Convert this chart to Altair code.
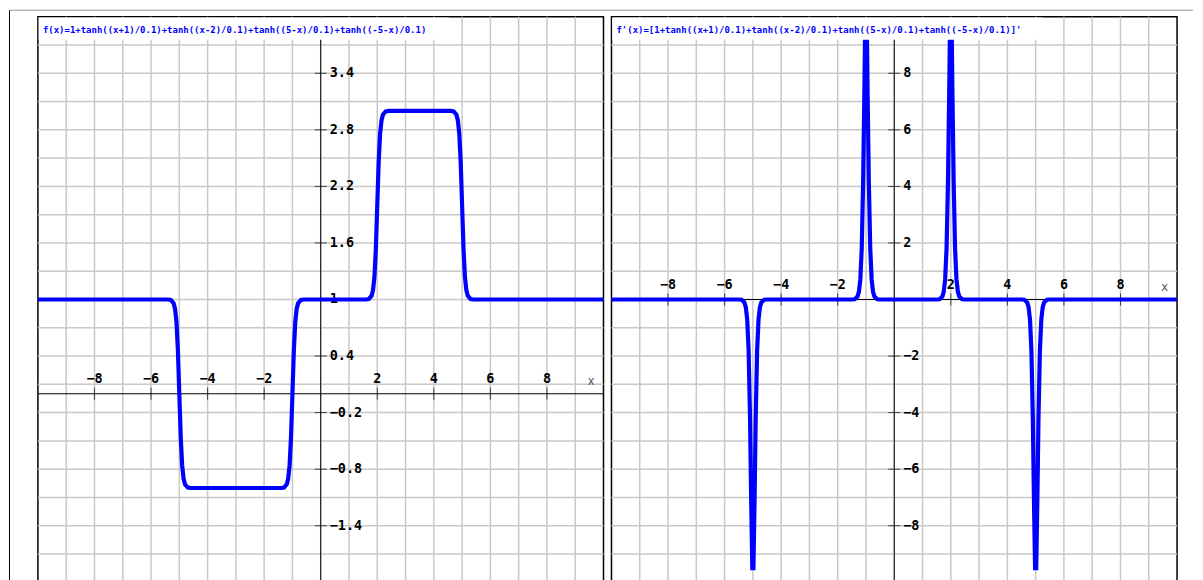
import altair as alt
import pandas as pd

W = 567
H = 567
FONT = "DejaVu Sans Mono"
BLUE = "#0000ff"
GRID = "#c8c8c8"

# ---------------- data ----------------
# left panel: f(x)
f_x = [-10, -5.4, -5.3, -5.2, -5.15, -5.1, -5.05, -5.0, -4.95, -4.9, -4.85, -4.8, -4.7, -4.6,
       -1.4, -1.3, -1.2, -1.15, -1.1, -1.05, -1.0, -0.95, -0.9, -0.85, -0.8, -0.7, -0.6,
       1.6, 1.7, 1.8, 1.85, 1.9, 1.95, 2.0, 2.05, 2.1, 2.15, 2.2, 2.3, 2.4,
       4.6, 4.7, 4.8, 4.85, 4.9, 4.95, 5.0, 5.05, 5.1, 5.15, 5.2, 5.3, 5.4, 10]
f_y = [1, 1, 0.995, 0.96, 0.9, 0.76, 0.46, 0, -0.46, -0.76, -0.9, -0.96, -0.995, -1,
       -1, -0.995, -0.96, -0.9, -0.76, -0.46, 0, 0.46, 0.76, 0.9, 0.96, 0.995, 1,
       1, 1.005, 1.04, 1.1, 1.24, 1.54, 2, 2.46, 2.76, 2.9, 2.96, 2.995, 3,
       3, 2.995, 2.96, 2.9, 2.76, 2.46, 2, 1.54, 1.24, 1.1, 1.04, 1.005, 1, 1]

# right panel: f'(x)
g_x = [-10,
       -5.5, -5.4, -5.3, -5.25, -5.2, -5.15, -5.1, -5.06, -5.02, -4.98, -4.94, -4.9, -4.85, -4.8, -4.75, -4.7, -4.6, -4.5,
       -1.5, -1.4, -1.3, -1.25, -1.2, -1.15, -1.1, -1.06, -1.03, -0.97, -0.94, -0.9, -0.85, -0.8, -0.75, -0.7, -0.6, -0.5,
       1.5, 1.6, 1.7, 1.75, 1.8, 1.85, 1.9, 1.94, 1.97, 2.03, 2.06, 2.1, 2.15, 2.2, 2.25, 2.3, 2.4, 2.5,
       4.5, 4.6, 4.7, 4.75, 4.8, 4.85, 4.9, 4.94, 4.98, 5.02, 5.06, 5.1, 5.15, 5.2, 5.25, 5.3, 5.4, 5.5,
       10]
g_y = [0,
       0, -0.01, -0.1, -0.27, -0.71, -1.81, -4.2, -7.1, -9.5, -9.5, -7.1, -4.2, -1.81, -0.71, -0.27, -0.1, -0.01, 0,
       0, 0.01, 0.1, 0.27, 0.71, 1.81, 4.2, 7.1, 9.6, 9.6, 7.1, 4.2, 1.81, 0.71, 0.27, 0.1, 0.01, 0,
       0, 0.01, 0.1, 0.27, 0.71, 1.81, 4.2, 7.1, 9.6, 9.6, 7.1, 4.2, 1.81, 0.71, 0.27, 0.1, 0.01, 0,
       0, -0.01, -0.1, -0.27, -0.71, -1.81, -4.2, -7.1, -9.5, -9.5, -7.1, -4.2, -1.81, -0.71, -0.27, -0.1, -0.01, 0,
       0]

# grids, ticks and labels
x_grid = [-9, -8, -7, -6, -5, -4, -3, -2, -1, 0, 1, 2, 3, 4, 5, 6, 7, 8, 9]
left_y_grid = [-1.7, -1.4, -1.1, -0.8, -0.5, -0.2, 0.1, 0.4, 0.7, 1.0, 1.3, 1.6, 1.9,
               2.2, 2.5, 2.8, 3.1, 3.4, 3.7]
right_y_grid = [-9, -8, -7, -6, -5, -4, -3, -2, -1, 0, 1, 2, 3, 4, 5, 6, 7, 8, 9]

x_ticks = [-8, -6, -4, -2, 2, 4, 6, 8]
x_tick_labels = ["−8", "−6", "−4", "−2", "2", "4", "6", "8"]
left_y_ticks = [-1.4, -0.8, -0.2, 0.4, 1, 1.6, 2.2, 2.8, 3.4]
left_y_labels = ["−1.4", "−0.8", "−0.2", "0.4", "1", "1.6", "2.2", "2.8", "3.4"]
right_y_ticks = [-8, -6, -4, -2, 2, 4, 6, 8]
right_y_labels = ["−8", "−6", "−4", "−2", "2", "4", "6", "8"]

left_title = "f(x)=1+tanh((x+1)/0.1)+tanh((x-2)/0.1)+tanh((5-x)/0.1)+tanh((-5-x)/0.1)"
right_title = "f'(x)=[1+tanh((x+1)/0.1)+tanh((x-2)/0.1)+tanh((5-x)/0.1)+tanh((-5-x)/0.1)]'"


def panel(xdom, ydom, xgrid, ygrid, xticks, xlabels, yticks, ylabels, cx, cy, title, box_w, frame):
    def X():
        return alt.X("x:Q", scale=alt.Scale(domain=xdom, nice=False, zero=False), axis=None)

    def Y():
        return alt.Y("y:Q", scale=alt.Scale(domain=ydom, nice=False, zero=False), axis=None)

    vg = alt.Chart(pd.DataFrame({"x": xgrid})).mark_rule(color=GRID, strokeWidth=1.5).encode(x=X())
    hg = alt.Chart(pd.DataFrame({"y": ygrid})).mark_rule(color=GRID, strokeWidth=1.5).encode(y=Y())
    axv = alt.Chart(pd.DataFrame({"x": [0]})).mark_rule(color="black", strokeWidth=1).encode(x=X())
    axh = alt.Chart(pd.DataFrame({"y": [0]})).mark_rule(color="black", strokeWidth=1).encode(y=Y())
    xt = alt.Chart(pd.DataFrame({"x": xticks, "y": [0] * len(xticks)})).mark_tick(
        orient="vertical", size=12, thickness=1, color="black").encode(x=X(), y=Y())
    yt = alt.Chart(pd.DataFrame({"x": [0] * len(yticks), "y": yticks})).mark_tick(
        orient="horizontal", size=12, thickness=1, color="black").encode(x=X(), y=Y())
    xl = alt.Chart(pd.DataFrame({"x": xticks, "y": [0] * len(xticks), "t": xlabels})).mark_text(
        font=FONT, fontSize=13.5, fontWeight="bold", color="black", align="center",
        baseline="alphabetic", dy=-11).encode(x=X(), y=Y(), text="t:N")
    yl = alt.Chart(pd.DataFrame({"x": [0] * len(yticks), "y": yticks, "t": ylabels})).mark_text(
        font=FONT, fontSize=13.5, fontWeight="bold", color="black", align="left",
        baseline="middle", dx=9).encode(x=X(), y=Y(), text="t:N")
    xname = alt.Chart(pd.DataFrame({"x": [9.56], "y": [0], "t": ["x"]})).mark_text(
        font=FONT, fontSize=12, color="#555555", align="center", baseline="middle",
        dy=-13).encode(x=X(), y=Y(), text="t:N")
    curve = alt.Chart(pd.DataFrame({"x": cx, "y": cy})).mark_line(
        color=BLUE, strokeWidth=4.2, clip=True).encode(x=X(), y=Y())
    d = pd.DataFrame({"a": [0]})
    box = alt.Chart(d).mark_rect(color="white").encode(
        x=alt.value(0.8), x2=alt.value(box_w), y=alt.value(0.8), y2=alt.value(23))
    ttl = alt.Chart(pd.DataFrame({"t": [title]})).mark_text(
        font=FONT, fontSize=9, fontWeight="bold", color=BLUE, align="left",
        baseline="middle").encode(x=alt.value(5), y=alt.value(13), text="t:N")

    layers = [vg, hg, axv, axh, xt, yt, xl, yl, xname, curve, box, ttl]
    if frame:
        ftop = alt.Chart(d).mark_rule(color="#999999", strokeWidth=1).encode(
            x=alt.value(-28.5), x2=alt.value(1158), y=alt.value(-6.5))
        fleft = alt.Chart(d).mark_rule(color="black", strokeWidth=1).encode(
            x=alt.value(-28.5), y=alt.value(-6.5), y2=alt.value(H))
        layers = [ftop, fleft] + layers
    return alt.layer(*layers).properties(width=W, height=H)


left = panel([-10, 10], [-2, 4], x_grid, left_y_grid, x_ticks, x_tick_labels,
             left_y_ticks, left_y_labels, f_x, f_y, left_title, 412, True)
right = panel([-10, 10], [-10, 10], x_grid, right_y_grid, x_ticks, x_tick_labels,
              right_y_ticks, right_y_labels, g_x, g_y, right_title, 432, False)

chart = alt.hconcat(left, right, spacing=8, bounds="flush").properties(
    padding=0, background="white"
).configure_view(stroke="black", strokeWidth=1.5)

chart.save("out.html", embed_options={"renderer": "svg", "actions": False})
